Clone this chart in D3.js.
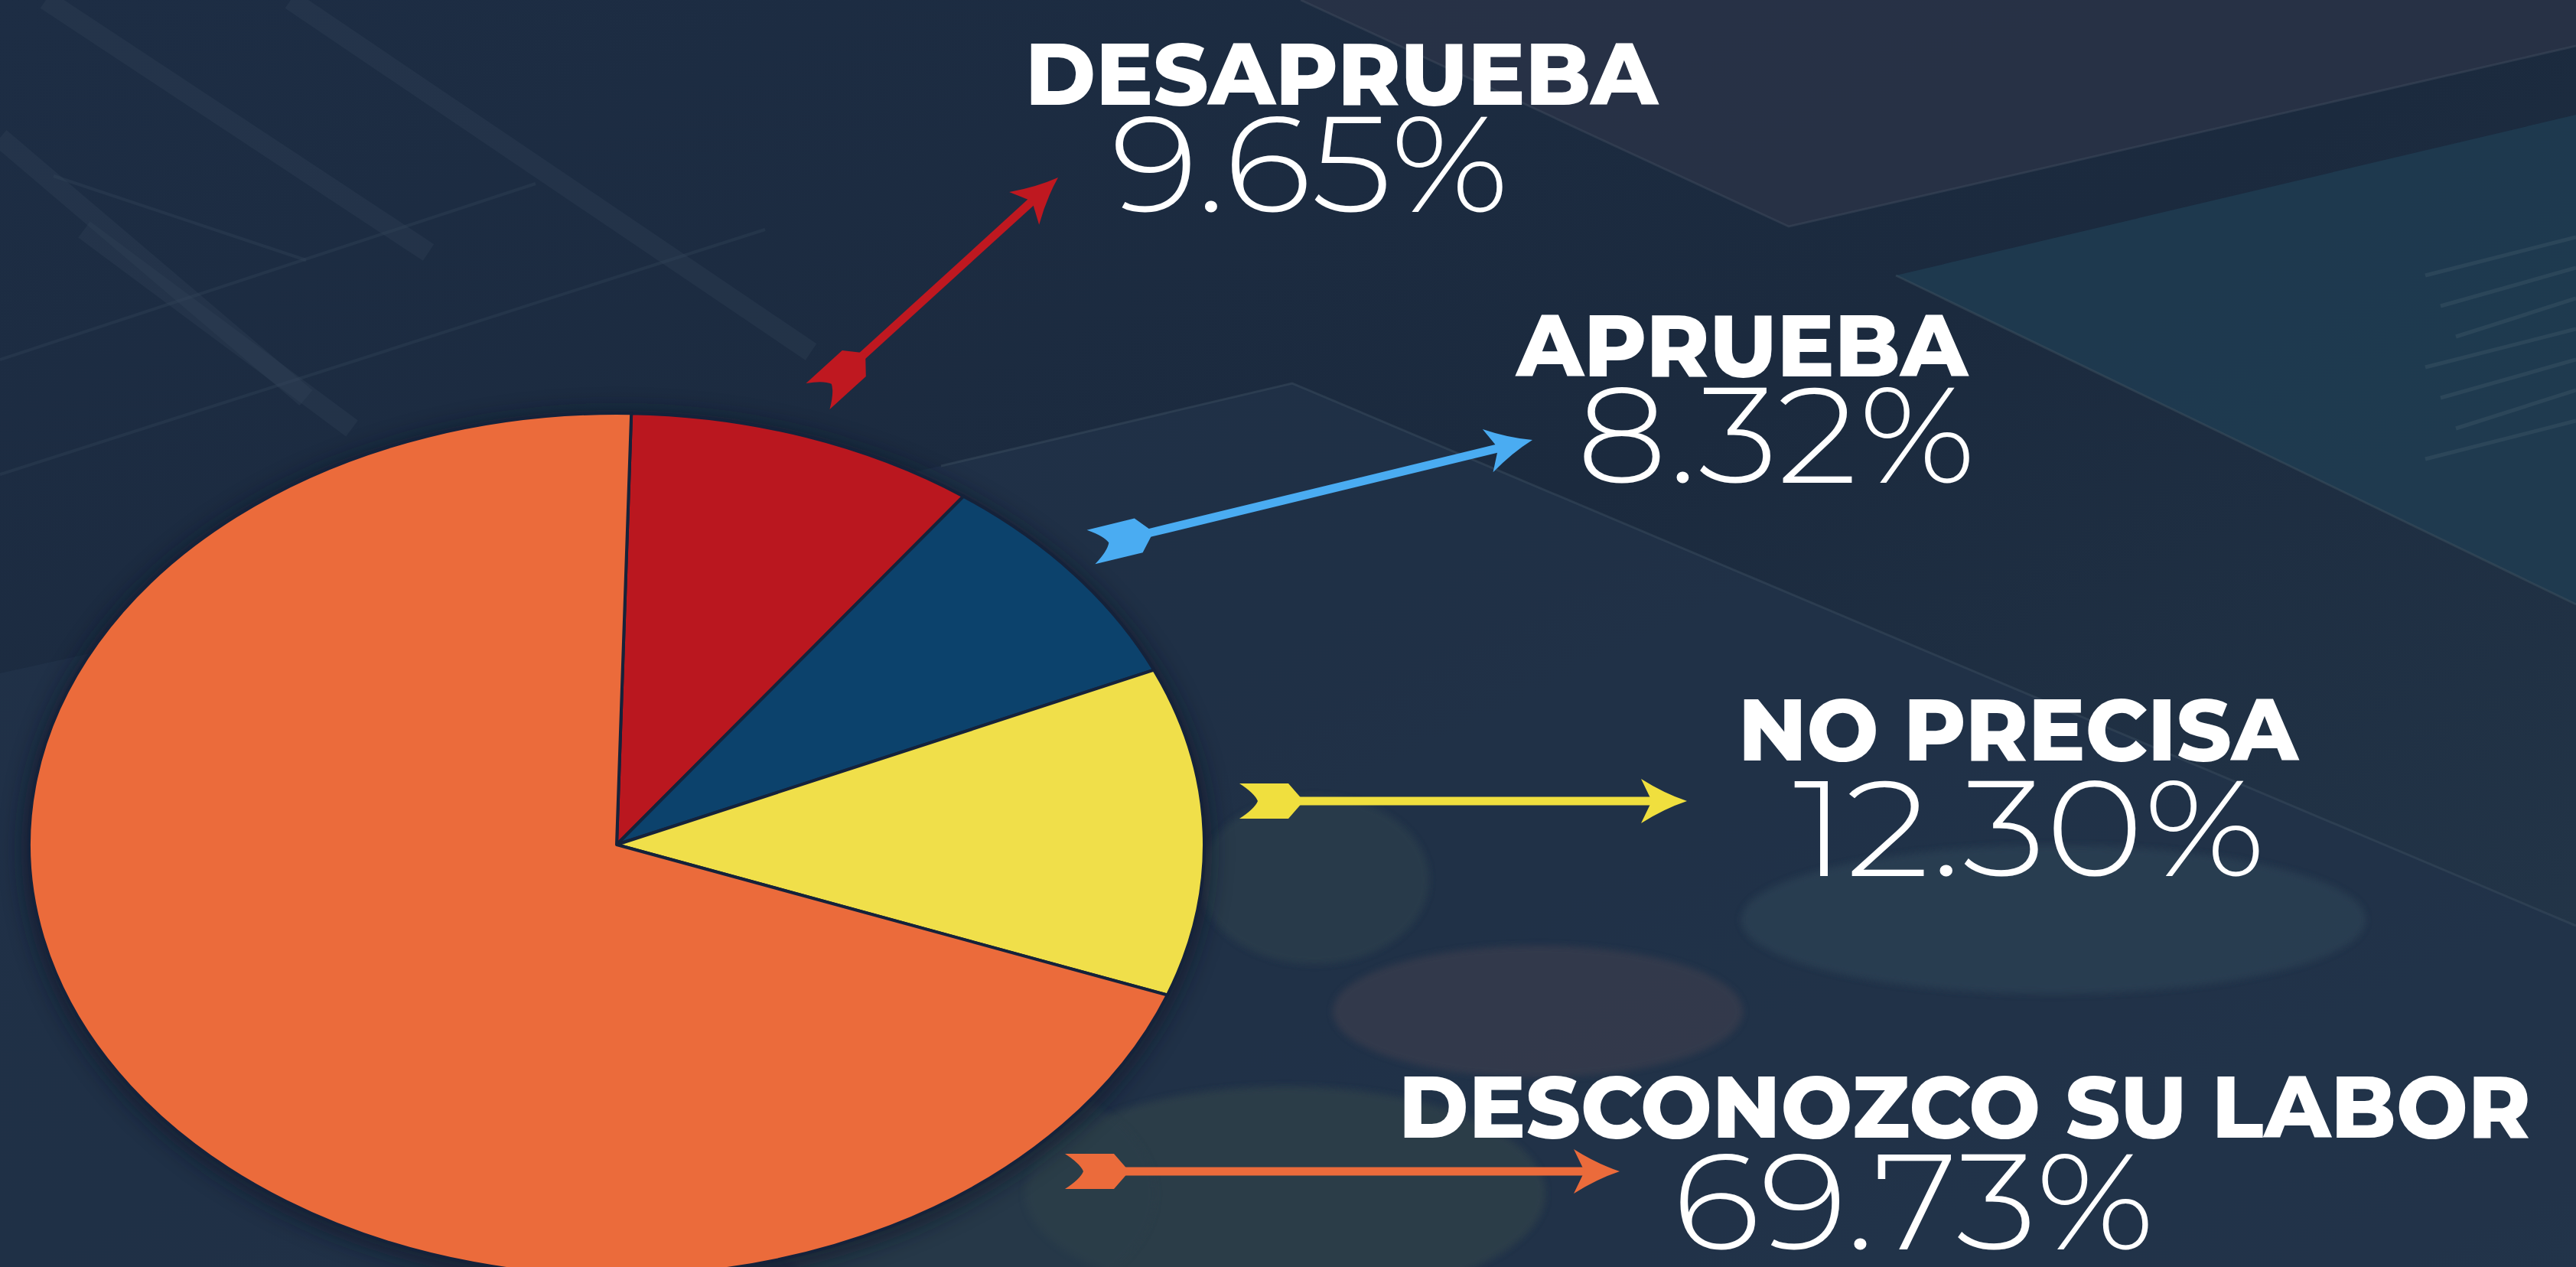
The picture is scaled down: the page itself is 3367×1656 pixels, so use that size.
<!DOCTYPE html>
<html>
<head>
<meta charset="utf-8">
<script src="https://cdn.jsdelivr.net/npm/d3@7"></script>
<style>
    html, body { margin: 0; padding: 0; background: #1c2b40; overflow: hidden; }
</style>
</head>
<body>
<div id="chart"></div>
<script>
// Data
const categories = ["DESAPRUEBA", "APRUEBA", "NO PRECISA", "DESCONOZCO SU LABOR"];
const percentages = [9.65, 8.32, 12.30, 69.73];
const percentLabels = ["9.65%", "8.32%", "12.30%", "69.73%"];
const sliceColors = ["#ba171f", "#0c426c", "#f0df4a", "#eb6b3b"];
const arrowColors = ["#bf1820", "#4aacf2", "#f0df3e", "#eb6b3b"];

const W = 3367, H = 1656;

// Pie drawn as a circle squashed into an ellipse
const pieCx = 806, pieCy = 1104, rx = 768, ry = 564;

// Where each label and its arrow go (layout only)
const layout = [
    {name: {x: 1340, y: 137, w: 827}, value: {x: 1452, y: 277, w: 520}, from: [1069, 518], to: [1383, 232]},
    {name: {x: 1982, y: 492, w: 590}, value: {x: 2061, y: 631, w: 521}, from: [1426, 715], to: [2003, 575]},
    {name: {x: 2272, y: 994, w: 732}, value: {x: 2344, y: 1145, w: 617}, from: [1620, 1047], to: [2205, 1047]},
    {name: {x: 1828, y: 1487, w: 1480}, value: {x: 2186, y: 1633, w: 630}, from: [1392, 1531], to: [2117, 1531]}
];

const svg = d3.select("#chart")
    .append("svg")
    .attr("width", W)
    .attr("height", H);

const defs = svg.append("defs");

const bgGrad = defs.append("linearGradient")
    .attr("id", "bg")
    .attr("x1", 0).attr("y1", 0).attr("x2", 1).attr("y2", 1);
bgGrad.append("stop").attr("offset", 0).attr("stop-color", "#1d2d44");
bgGrad.append("stop").attr("offset", 0.5).attr("stop-color", "#1b2a3e");
bgGrad.append("stop").attr("offset", 1).attr("stop-color", "#25384b");

const blur = defs.append("filter").attr("id", "blur")
    .attr("x", "-20%").attr("y", "-20%").attr("width", "140%").attr("height", "140%");
blur.append("feGaussianBlur").attr("stdDeviation", 14);

const softBlur = defs.append("filter").attr("id", "soft")
    .attr("x", "-20%").attr("y", "-20%").attr("width", "140%").attr("height", "140%");
softBlur.append("feGaussianBlur").attr("stdDeviation", 4);

// Background
svg.append("rect")
    .attr("width", W)
    .attr("height", H)
    .attr("fill", "url(#bg)");

const bg = svg.append("g");

// lighter top band (upper right)
bg.append("path")
    .attr("d", "M1700,0 L3367,0 L3367,60 L2338,296 Z")
    .attr("fill", "#2c3549")
    .attr("opacity", 0.7);

// teal panel top right
bg.append("path")
    .attr("d", "M2478,360 L3367,150 L3367,790 Z")
    .attr("fill", "#1f3d52")
    .attr("opacity", 0.8);

// faint stripes inside teal panel
[300, 340, 380, 420, 460, 500, 540].forEach((y, i) => {
    bg.append("line")
        .attr("x1", 3170 + (i % 3) * 20).attr("y1", y + 60)
        .attr("x2", 3367).attr("y2", y + 10)
        .attr("stroke", "#4a6272")
        .attr("stroke-width", 5)
        .attr("opacity", 0.3);
});

// lighter panel in the middle
bg.append("path")
    .attr("d", "M1689,501 L3367,1210 L3367,1656 L0,1656 L0,880 L1230,609 Z")
    .attr("fill", "#21334a")
    .attr("opacity", 0.75);
bg.append("path")
    .attr("d", "M1230,609 L1689,501 L3367,1210")
    .attr("fill", "none")
    .attr("stroke", "#3a4c5e")
    .attr("stroke-width", 3)
    .attr("opacity", 0.5);

// edge lines of the upper band
bg.append("path")
    .attr("d", "M1700,0 L2338,296 L3367,60")
    .attr("fill", "none")
    .attr("stroke", "#3d4a5c")
    .attr("stroke-width", 3)
    .attr("opacity", 0.5);
bg.append("path")
    .attr("d", "M2478,360 L3367,790")
    .attr("fill", "none")
    .attr("stroke", "#3d4f5e")
    .attr("stroke-width", 3)
    .attr("opacity", 0.5);

// faint chart lines top left
[[60, 0, 560, 330], [0, 180, 400, 520], [380, 0, 1060, 460], [110, 300, 460, 560]].forEach(l => {
    bg.append("line")
        .attr("x1", l[0]).attr("y1", l[1])
        .attr("x2", l[2]).attr("y2", l[3])
        .attr("stroke", "#34465a")
        .attr("stroke-width", 26)
        .attr("opacity", 0.3);
});
[[0, 470, 700, 240], [0, 620, 1000, 300], [70, 230, 400, 340]].forEach(l => {
    bg.append("line")
        .attr("x1", l[0]).attr("y1", l[1])
        .attr("x2", l[2]).attr("y2", l[3])
        .attr("stroke", "#34465a")
        .attr("stroke-width", 4)
        .attr("opacity", 0.35);
});

// soft blobs in the lower half
const blobs = [
    [2684, 1202, 408, 97, "#2c4152", 0.8],
    [2010, 1322, 268, 86, "#3a3d4e", 0.7],
    [1718, 1150, 150, 110, "#2b3e4c", 0.8],
    [1680, 1560, 340, 140, "#2e4149", 0.8],
    [1250, 1560, 260, 160, "#2a3d48", 0.6]
];
blobs.forEach(b => {
    bg.append("ellipse")
        .attr("cx", b[0]).attr("cy", b[1])
        .attr("rx", b[2]).attr("ry", b[3])
        .attr("fill", b[4])
        .attr("opacity", b[5])
        .attr("filter", "url(#soft)");
});

// Pie shadow
svg.append("ellipse")
    .attr("cx", pieCx).attr("cy", pieCy + 6)
    .attr("rx", rx + 10).attr("ry", ry + 10)
    .attr("fill", "#0e1826")
    .attr("opacity", 0.55)
    .attr("filter", "url(#blur)");

// Pie
const start = 0.025;
const pie = d3.pie()
    .sort(null)
    .value(d => d)
    .startAngle(start)
    .endAngle(start + 2 * Math.PI);

const arc = d3.arc()
    .innerRadius(0)
    .outerRadius(rx);

svg.append("g")
    .attr("transform", `translate(${pieCx},${pieCy}) scale(1,${ry / rx})`)
    .selectAll("path")
    .data(pie(percentages))
    .join("path")
    .attr("d", arc)
    .attr("fill", (d, i) => sliceColors[i])
    .attr("stroke", "#15223a")
    .attr("stroke-width", 4)
    .attr("stroke-linejoin", "round")
    .attr("vector-effect", "non-scaling-stroke");

// Arrows: fletching at the tail, shaft, barbed head
function drawArrow(from, to, color) {
    const dx = to[0] - from[0], dy = to[1] - from[1];
    const len = Math.hypot(dx, dy);
    const ang = Math.atan2(dy, dx) * 180 / Math.PI;
    const g = svg.append("g")
        .attr("transform", `translate(${from[0]},${from[1]}) rotate(${ang})`)
        .attr("fill", color);
    g.append("rect")
        .attr("x", 70)
        .attr("y", -5.5)
        .attr("width", len - 70 - 40)
        .attr("height", 11);
    g.append("path")
        .attr("d", "M0,-23 L64,-23 L84,0 L64,23 L0,23 Q20,10 24,0 Q20,-10 0,-23 Z");
    g.append("path")
        .attr("d", `M${len},0 Q${len - 30},-10 ${len - 60},-29 L${len - 46},0 L${len - 60},29 Q${len - 30},10 ${len},0 Z`);
}

layout.forEach((l, i) => drawArrow(l.from, l.to, arrowColors[i]));

// Labels
const labels = svg.append("g").attr("fill", "#ffffff");

labels.selectAll("text.name")
    .data(categories)
    .join("text")
    .attr("class", "name")
    .attr("x", (d, i) => layout[i].name.x)
    .attr("y", (d, i) => layout[i].name.y)
    .attr("textLength", (d, i) => layout[i].name.w)
    .attr("lengthAdjust", "spacingAndGlyphs")
    .style("font-family", "Montserrat, 'Open Sans', sans-serif")
    .style("font-weight", 800)
    .style("font-size", "115px")
    .text(d => d);

labels.selectAll("text.value")
    .data(percentLabels)
    .join("text")
    .attr("class", "value")
    .attr("x", (d, i) => layout[i].value.x)
    .attr("y", (d, i) => layout[i].value.y)
    .attr("textLength", (d, i) => layout[i].value.w)
    .attr("lengthAdjust", "spacingAndGlyphs")
    .style("font-family", "Montserrat, 'Open Sans', sans-serif")
    .style("font-weight", 300)
    .style("font-size", "176px")
    .text(d => d);
</script>
</body>
</html>
